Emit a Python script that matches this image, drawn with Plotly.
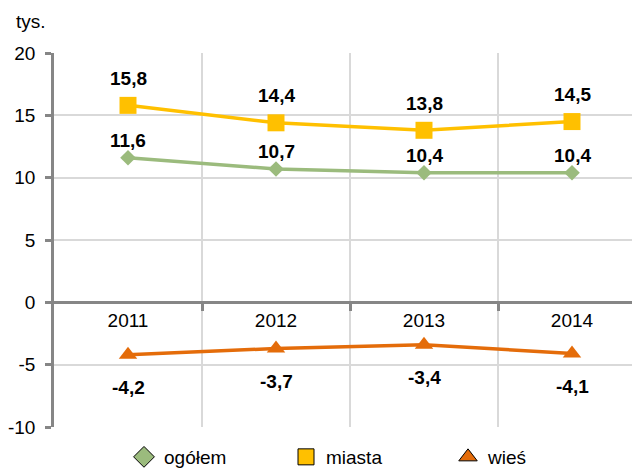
import plotly.graph_objects as go

# Lata i wartości (tys.)
years = ["2011", "2012", "2013", "2014"]
ogolem = [11.6, 10.7, 10.4, 10.4]
miasta = [15.8, 14.4, 13.8, 14.5]
wies = [-4.2, -3.7, -3.4, -4.1]

y_ticks = [-10, -5, 0, 5, 10, 15, 20]

FONT = "Liberation Sans, Arial, sans-serif"
GREEN = "#9BBB7D"
YELLOW = "#FFC000"
ORANGE = "#E46C0A"
GRID = "#D9D9D9"
AXIS = "#868686"

xs = list(range(len(years)))

series = [
    ("ogółem", ogolem, GREEN, "diamond", 12, 17),
    ("miasta", miasta, YELLOW, "square", 17, 27),
    ("wieś", wies, ORANGE, "triangle-up", 16, -33),
]

fig = go.Figure()
annotations = []

for name, vals, color, symbol, size, shift in series:
    fig.add_trace(go.Scatter(
        x=xs, y=vals, mode="lines+markers", name=name,
        line=dict(color=color, width=3.5),
        marker=dict(symbol=symbol, size=size, color=color),
        showlegend=False, hoverinfo="skip",
    ))
    for x, v in zip(xs, vals):
        annotations.append(dict(
            x=x, y=v, xref="x", yref="y", showarrow=False,
            text=f"<b>{v:.1f}</b>".replace(".", ","),
            yshift=shift, font=dict(family=FONT, size=19, color="#000000"),
        ))

# legend entries: outlined markers only
for name, vals, color, symbol, size, shift in series:
    fig.add_trace(go.Scatter(
        x=[None], y=[None], mode="markers", name=name,
        marker=dict(symbol=symbol, size=16, color=color,
                    line=dict(color="#000000", width=1)),
    ))

annotations.append(dict(
    text="tys.", xref="paper", yref="paper",
    x=(14 - 54) / 578, y=1 + (53 - 22) / 374,
    xanchor="left", yanchor="middle", showarrow=False,
    font=dict(family=FONT, size=19, color="#000000"),
))

fig.update_layout(
    width=632, height=470,
    margin=dict(l=54, r=0, t=53, b=43, autoexpand=False),
    paper_bgcolor="white", plot_bgcolor="white",
    font=dict(family=FONT, size=19, color="#000000"),
    annotations=annotations,
    legend=dict(
        orientation="h", x=(124 - 54) / 578, y=-(457 - 427) / 374,
        xanchor="left", yanchor="middle",
        entrywidth=117, entrywidthmode="pixels",
        font=dict(family=FONT, size=19, color="#000000"),
        bgcolor="rgba(0,0,0,0)", traceorder="normal",
    ),
    xaxis=dict(
        range=[-0.5, -0.5 + 578 / 148],
        tickmode="array", tickvals=xs, ticktext=years,
        ticks="", showgrid=False, zeroline=False,
        showline=True, linecolor=AXIS, linewidth=2.5,
        anchor="free", position=1 / 3,
        tickfont=dict(family=FONT, size=19, color="#000000"),
        minor=dict(tickmode="array", tickvals=[0.5, 1.5, 2.5],
                   ticks="outside", ticklen=7, tickwidth=2.5, tickcolor=AXIS,
                   showgrid=True, gridcolor=GRID, gridwidth=2),
        fixedrange=True,
    ),
    yaxis=dict(
        range=[-10, 20], tickmode="array", tickvals=y_ticks,
        ticktext=[str(t) for t in y_ticks],
        showgrid=True, gridcolor=GRID, gridwidth=2,
        zeroline=False, showline=True, linecolor=AXIS, linewidth=2.5,
        ticks="outside", ticklen=6, tickwidth=2.5, tickcolor=AXIS,
        ticklabelstandoff=6,
        tickfont=dict(family=FONT, size=19, color="#000000"),
        fixedrange=True,
    ),
)

fig.write_html("out.html")
